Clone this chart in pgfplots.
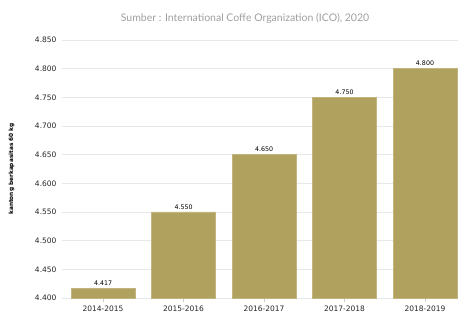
\documentclass[border=0pt]{standalone}
\usepackage{pgfplots}
\pgfplotsset{compat=1.18}
\usepackage{fontspec}
\setmainfont{DejaVu Sans}
\newfontfamily\titlefont{Lato}
\definecolor{barc}{RGB}{176,162,94}
\definecolor{gridc}{RGB}{232,232,232}
\begin{document}
\begin{tikzpicture}[x=1pt,y=1pt]
\path[use as bounding box] (0,0) rectangle (458,320);
\node[font=\titlefont\fontsize{10.5}{12}\selectfont, text=gray!75] at (245,302) {Sumber : International Coffe Organization (ICO), 2020};
\begin{axis}[
  at={(62pt,22pt)}, anchor=south west,
  scale only axis, width=396pt, height=258pt,
  xmin=-0.51, xmax=4.41,
  ymin=4.4, ymax=4.85,
  ytick={4.40,4.45,...,4.86},
  xtick={0,1,2,3,4},
  xticklabels={2014-2015,2015-2016,2016-2017,2017-2018,2018-2019},
  yticklabel style={/pgf/number format/fixed, /pgf/number format/fixed zerofill, /pgf/number format/precision=3, /pgf/number format/assume math mode=true, xshift=-2pt},
  ticklabel style={font=\fontsize{7.5}{8}\selectfont, text=black!85},
  ymajorgrids, grid style={gridc, line width=0.6pt},
  axis y line*=left, axis x line*=bottom,
  y axis line style={draw=none},
  x axis line style={gridc, line width=0.8pt, -},
  xtick style={draw=gray!40, line width=0.5pt},
  major tick length=4pt,
  xtick align=outside,
  ytick style={draw=none},
  ylabel={\textbf{kantong berkapasitas 60 kg}},
  ylabel style={font=\fontsize{5.8}{6}\selectfont, at={(axis description cs:0,0.5)}, anchor=south, xshift=0pt, yshift=44pt},
  clip=false,
]
\addplot[ybar, bar width=64pt, fill=barc, draw=barc!80!white, line width=0.5pt,
  nodes near coords, point meta=explicit symbolic,
  every node near coord/.append style={font=\fontsize{6.3}{7}\selectfont, text=black, yshift=-1pt}]
  table[meta=lab] {
x y lab
0 4.417 4.417
1 4.550 4.550
2 4.650 4.650
3 4.750 4.750
4 4.800 4.800
};
\end{axis}
\end{tikzpicture}
\end{document}
